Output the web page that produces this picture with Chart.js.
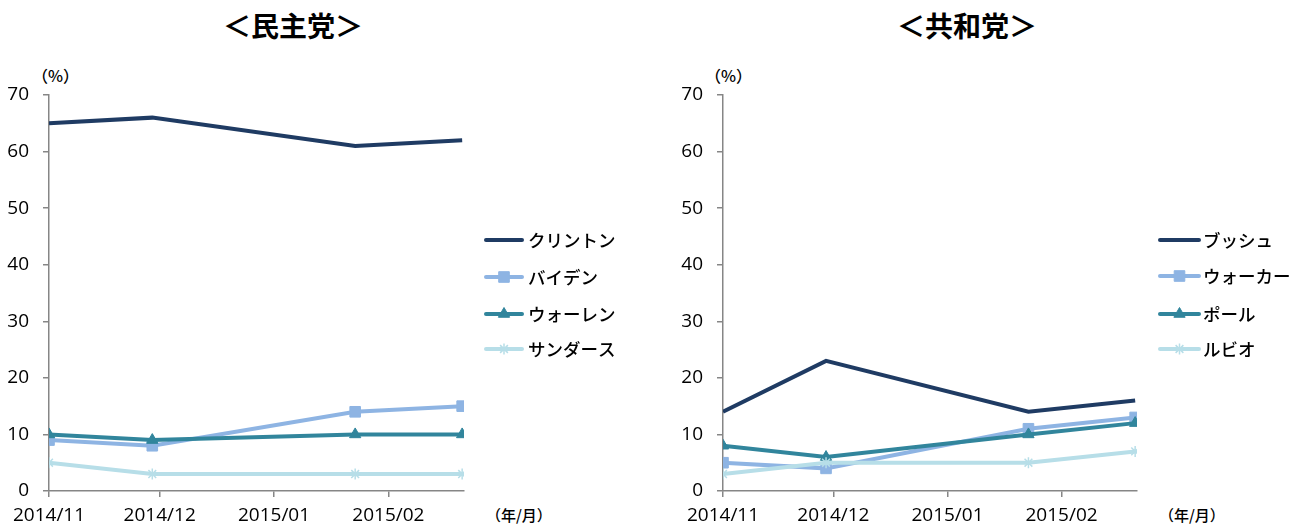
<!DOCTYPE html>
<html>
<head>
<meta charset="utf-8">
<script src="https://cdn.jsdelivr.net/npm/chart.js@4.4.1/dist/chart.umd.min.js"></script>
<style>
  body { margin:0; background:#fff; width:1310px; height:526px; overflow:hidden; position:relative; }
  .box { position:absolute; top:0; width:655px; height:526px; }
  .ttl { position:absolute; top:11px; width:200px; text-align:center; font:bold 28px/28px "Noto Sans CJK JP", sans-serif; color:#000; }
  .unit { position:absolute; font:500 16px/16px "Noto Sans CJK JP", sans-serif; color:#000; white-space:nowrap; }
  .unit.x { font-size:15px; line-height:15px; }
</style>
</head>
<body>
<div class="ttl" style="left:193px">＜民主党＞</div>
<div class="ttl" style="left:867px">＜共和党＞</div>
<div class="unit" style="left:32px;top:67px">（%）</div>
<div class="unit" style="left:705px;top:67px">（%）</div>
<div class="unit x" style="left:486px;top:507px">（年/月）</div>
<div class="unit x" style="left:1159px;top:507px">（年/月）</div>
<div class="box" style="left:0"><canvas id="dem" width="655" height="526"></canvas></div>
<div class="box" style="left:655px"><canvas id="rep" width="655" height="526"></canvas></div>
<script>
// 月の目盛り（2014/11/01 からの日数）
var tickLabels = ['2014/11', '2014/12', '2015/01', '2015/02'];
var tickDays = [0, 30, 61, 92];
// 調査日（2014/11/01 からの日数）
var surveyDays = [0, 28, 83, 112];

var demNames = ['クリントン', 'バイデン', 'ウォーレン', 'サンダース'];
var clinton = [65, 66, 61, 62];
var biden = [9, 8, 14, 15];
var warren = [10, 9, 10, 10];
var sanders = [5, 3, 3, 3];

var repNames = ['ブッシュ', 'ウォーカー', 'ポール', 'ルビオ'];
var bush = [14, 23, 14, 16];
var walker = [5, 4, 11, 13];
var paul = [8, 6, 10, 12];
var rubio = [3, 5, 5, 7];

var colors = ['#1F3B63', '#8EB4E3', '#31859C', '#B7DEE8'];
var styles = [
  { pointStyle: 'circle', pointRadius: 0 },
  { pointStyle: 'rect', pointRadius: 7.5 },
  { pointStyle: 'triangle', pointRadius: 6.5 },
  { pointStyle: 'star', pointRadius: 5.5 }
];

function pts(vals) {
  return surveyDays.map(function(d, i) { return { x: d, y: vals[i] }; });
}

function makeSets(names, series) {
  return names.map(function(n, i) {
    return {
      label: n,
      data: pts(series[i]),
      borderColor: colors[i],
      backgroundColor: colors[i],
      borderWidth: 4,
      tension: 0,
      pointStyle: styles[i].pointStyle,
      pointRadius: styles[i].pointRadius,
      pointHoverRadius: styles[i].pointRadius,
      pointBackgroundColor: colors[i],
      pointBorderColor: colors[i],
      pointBorderWidth: i == 3 ? 1.5 : 1,
      order: 3 - i
    };
  });
}

var sideLegend = {
  id: 'sideLegend',
  afterDraw: function(chart) {
    var o = chart.options.plugins.sideLegend;
    var ctx = chart.ctx;
    ctx.save();
    chart.data.datasets.forEach(function(ds, i) {
      var y = o.rows[i];
      ctx.strokeStyle = ds.borderColor;
      ctx.fillStyle = ds.borderColor;
      ctx.lineWidth = 4;
      ctx.lineCap = 'round';
      ctx.beginPath();
      ctx.moveTo(o.x0, y);
      ctx.lineTo(o.x1, y);
      ctx.stroke();
      if (ds.pointRadius > 0 && Chart.helpers && Chart.helpers.drawPoint) {
        ctx.lineWidth = ds.pointBorderWidth;
        ctx.lineCap = 'butt';
        Chart.helpers.drawPoint(ctx, {
          pointStyle: ds.pointStyle, radius: ds.pointRadius, rotation: 0, borderWidth: ds.pointBorderWidth
        }, (o.x0 + o.x1) / 2, y);
      }
      ctx.fillStyle = '#000';
      ctx.font = '500 17.5px "Noto Sans CJK JP", sans-serif';
      ctx.textBaseline = 'middle';
      ctx.textAlign = 'left';
      ctx.fillText(ds.label, o.tx, y);
    });
    ctx.restore();
  }
};

var tickFont = { family: '"Open Sans", sans-serif', size: 19 };

function makeOptions(yWidth, padRight, leg) {
  return {
    responsive: false,
    animation: false,
    layout: { padding: { left: 0, top: 95, right: padRight, bottom: 0 } },
    plugins: {
      legend: { display: false },
      tooltip: { enabled: false },
      sideLegend: leg
    },
    scales: {
      x: {
        type: 'linear',
        min: 0,
        max: 112.5,
        afterBuildTicks: function(s) { s.ticks = tickDays.map(function(v) { return { value: v }; }); },
        afterFit: function(s) { s.height = 35; },
        grid: { drawOnChartArea: false, drawTicks: true, tickLength: 6, color: '#868686', lineWidth: 1.5 },
        border: { display: true, color: '#868686', width: 1.5 },
        ticks: {
          font: tickFont, color: '#000', padding: 7, maxRotation: 0, autoSkip: false,
          callback: function(v) { var k = tickDays.indexOf(v); return k < 0 ? '' : tickLabels[k]; }
        }
      },
      y: {
        min: 0,
        max: 70,
        afterFit: function(s) { s.width = yWidth; },
        grid: { drawOnChartArea: false, drawTicks: true, tickLength: 6, color: '#868686', lineWidth: 1.5 },
        border: { display: true, color: '#868686', width: 1.5 },
        ticks: { font: tickFont, color: '#000', padding: 14, stepSize: 10 }
      }
    }
  };
}

new Chart(document.getElementById('dem'), {
  type: 'line',
  data: { datasets: makeSets(demNames, [clinton, biden, warren, sanders]) },
  options: makeOptions(49, 191, { x0: 486, x1: 522, tx: 528, rows: [240, 277, 314, 349] }),
  plugins: [sideLegend]
});

new Chart(document.getElementById('rep'), {
  type: 'line',
  data: { datasets: makeSets(repNames, [bush, walker, paul, rubio]) },
  options: makeOptions(68, 173, { x0: 505, x1: 544, tx: 548, rows: [240, 276, 314, 349] }),
  plugins: [sideLegend]
});
</script>
</body>
</html>
